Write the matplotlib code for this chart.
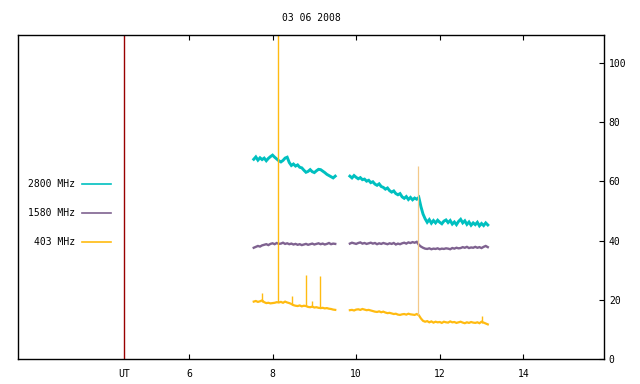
import numpy as np
import matplotlib
matplotlib.use("Agg")
import matplotlib.pyplot as plt
from matplotlib.lines import Line2D

title = "03 06 2008"
series_names = ["2800 MHz", "1580 MHz", "403 MHz"]
colors = ["#00c0c0", "#7f6290", "#ffbb11"]
ut_marker = 4.45
xtick_vals = [6, 8, 10, 12, 14]
ytick_vals = [0, 20, 40, 60, 80, 100]

# segment 1: 7.55 .. 9.50 h, segment 2: 9.85 .. 13.15 h (0.05 h steps)
t_seg1 = np.round(np.arange(7.55, 9.5001, 0.05), 2)
t_seg2 = np.round(np.arange(9.85, 13.1501, 0.05), 2)

f2800_seg1 = [67.5, 68.3, 67.2, 68.0, 67.4, 67.9, 67.0, 67.8, 68.4, 68.9,
              68.2, 67.6, 67.0, 66.6, 67.1, 67.9, 68.2, 66.4, 65.4, 65.9,
              65.2, 65.6, 64.8, 64.6, 63.8, 63.1, 63.4, 64.0, 63.3, 63.0,
              63.6, 64.1, 64.0, 63.5, 63.0, 62.4, 62.0, 61.6, 61.2, 61.8]
f2800_seg2 = [61.8, 61.2, 62.0,
              61.4, 60.9, 61.3, 60.6, 60.8, 60.1, 60.4, 59.6, 59.9, 59.1,
              58.7, 59.2, 58.3, 58.0, 57.4, 57.8, 56.9, 56.4, 56.8, 55.9,
              55.5, 55.9, 54.8, 54.3, 54.9, 53.9, 54.6, 53.8, 54.4, 54.0,
              54.6, 51.5, 49.0, 47.4, 46.2, 47.1, 45.9, 46.8, 46.0, 46.9,
              46.2, 45.7, 46.6, 47.0, 46.1, 46.8, 45.6, 46.3, 45.4, 46.5,
              47.2, 46.0, 46.7, 45.5, 46.3, 45.2, 46.0, 45.4, 46.2, 45.0,
              45.8, 45.1, 46.0, 45.3]

f1580_seg1 = [37.6, 37.9, 38.2, 38.0, 38.4, 38.6, 38.8, 38.5, 38.9, 39.1,
              38.8, 39.2, 38.9, 39.0, 39.3, 38.9, 39.1, 38.8, 39.0, 38.7,
              38.9, 38.6, 38.8, 38.5, 38.7, 38.9, 38.6, 38.8, 39.0, 38.7,
              38.9, 39.1, 38.8, 39.0, 38.7, 38.9, 39.2, 38.8, 39.0, 38.9]
f1580_seg2 = [39.0, 39.3, 39.1, 38.9, 39.2, 39.4, 39.0, 39.2, 38.9, 39.1,
              39.3, 39.0, 39.2, 38.8, 39.1, 38.9, 39.2, 39.0, 38.8, 39.1,
              38.9, 39.2, 38.7, 39.0, 38.8, 39.1, 39.3, 39.0, 39.4, 39.2,
              39.5, 39.3, 39.6, 38.6, 38.0, 37.6, 37.3, 37.2, 37.4, 37.1,
              37.3, 37.2, 37.4, 37.1, 37.3, 37.2, 37.4, 37.3, 37.1, 37.5,
              37.3, 37.6, 37.4, 37.5, 37.8, 37.6, 37.9, 37.5, 37.7, 37.6,
              37.9, 37.6, 37.8, 37.5, 37.9, 38.2, 37.8]

f403_seg1 = [19.4, 19.6, 19.3, 19.5, 19.8, 19.2, 18.9, 19.0, 18.8, 18.9,
             19.0, 19.2, 19.1, 19.3, 19.0, 19.4, 19.1, 18.9, 18.6, 18.2,
             18.0, 17.9, 18.1, 17.8, 18.0, 17.9, 17.6, 17.5, 17.7, 17.4,
             17.5, 17.3, 17.2, 17.3, 17.1, 17.2, 17.0, 16.9, 16.7, 16.6]
f403_seg2 = [16.5, 16.6, 16.4, 16.7, 16.8, 16.6, 16.9, 16.7, 16.5, 16.6,
             16.4, 16.2, 16.0, 15.9, 16.1, 15.8, 16.0, 15.7, 15.5, 15.6,
             15.4, 15.2, 15.3, 15.0, 14.9, 15.1, 15.2, 15.0, 15.3, 15.1,
             15.0, 14.9, 15.2, 14.8, 13.7, 12.9, 12.6, 12.8, 12.4, 12.7,
             12.3, 12.6, 12.4, 12.5, 12.2, 12.6, 12.4, 12.3, 12.7, 12.4,
             12.5, 12.2, 12.4, 12.6, 12.3, 12.1, 12.4, 12.2, 12.5, 12.3,
             12.2, 12.4, 12.1, 12.6, 12.3, 12.0, 11.7]

# short bursts on 403 MHz
spike_times = [7.75, 8.14, 8.47, 8.81, 8.95, 9.14, 13.02]
spike_base = [19.3, 19.1, 18.4, 17.8, 17.5, 17.2, 12.3]
spike_peak = [22.2, 130.0, 21.3, 28.4, 19.6, 28.0, 14.5]
# faint burst line at 11.47 h
faint_time = 11.47
faint_base = 15.0
faint_peak = 65.3

plt.rcParams['font.family'] = ['DejaVu Sans Mono', 'DejaVu Sans']
fig = plt.figure(figsize=(6.4, 3.84), dpi=100)
W, H = 640, 384
L, R, T, B = 18, 604, 35, 359
ax = fig.add_axes([L / W, (H - B) / H, (R - L) / W, (B - T) / H])
ax.set_xlim(1.91, 15.93)
ax.set_ylim(0, 109.5)

ax.axvline(ut_marker, color="#990000", lw=1.0)

widths = [2.1, 1.7, 1.6]
seg_data = [(f2800_seg1, f2800_seg2), (f1580_seg1, f1580_seg2), (f403_seg1, f403_seg2)]
for (s1, s2), c, w in zip(seg_data, colors, widths):
    ax.plot(t_seg1, s1, color=c, lw=w, solid_joinstyle="miter")
    ax.plot(t_seg2, s2, color=c, lw=w, solid_joinstyle="miter")

ax.vlines(spike_times, spike_base, spike_peak, color=colors[2], lw=1.0)
ax.vlines([faint_time], [faint_base], [faint_peak], color="#f3c98a", lw=0.9)

# axis styling
ax.set_xticks([ut_marker] + xtick_vals)
ax.set_xticklabels(["UT"] + [str(v) for v in xtick_vals])
ax.tick_params(axis="x", direction="in", length=3.6, width=0.8, top=True,
               labelsize=7, pad=7)
ticks = ax.xaxis.get_major_ticks()
ticks[0].tick1line.set_visible(False)
ticks[0].tick2line.set_visible(False)
ax.yaxis.tick_right()
ax.set_yticks(ytick_vals)
ax.tick_params(axis="y", direction="in", length=3.6, width=0.8, labelsize=7,
               pad=3.5, left=False)
for sp in ax.spines.values():
    sp.set_linewidth(1.0)

# legend (drawn manually like gnuplot's key)
for i, (name, c) in enumerate(zip(series_names, colors)):
    py = 184 + 29 * i
    yf = (B - py) / (B - T)
    ax.text((75 - L) / (R - L), yf, name, transform=ax.transAxes,
            ha="right", va="center", fontsize=7)
    ax.add_line(Line2D([(82 - L) / (R - L), (111 - L) / (R - L)], [yf, yf],
                       transform=ax.transAxes, color=c, lw=1.2))

fig.text((L + R) / 2 / W, 1 - 18 / H, title, ha="center", va="center", fontsize=7)

fig.savefig("out.png", dpi=100)
